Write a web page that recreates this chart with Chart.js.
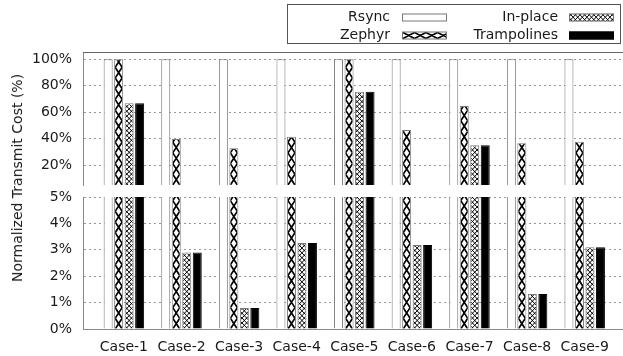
<!DOCTYPE html>
<html><head><meta charset="utf-8">
<script src="https://cdn.jsdelivr.net/npm/chart.js@4/dist/chart.umd.min.js"></script>
<style>
html,body{margin:0;padding:0;background:#fff;}
#wrap{position:relative;width:623px;height:356px;overflow:hidden;background:#fff;}
#top{position:absolute;left:0;top:0;}
#bot{position:absolute;left:0;top:176px;}
#ytitle{position:absolute;left:17px;top:178px;transform:translate(-50%,-50%) rotate(-90deg);font:14px "DejaVu Sans";color:#1a1a1a;white-space:nowrap;}
</style></head>
<body>
<div id="wrap">
<canvas id="top" width="623" height="206"></canvas>
<canvas id="bot" width="623" height="180"></canvas>
<div id="ytitle">Normalized Transmit Cost (%)</div>
</div>
<script>
// ---- data ----
const categories = ["Case-1","Case-2","Case-3","Case-4","Case-5","Case-6","Case-7","Case-8","Case-9"];
const rsync       = [100, 100, 100, 100, 100, 100, 100, 100, 100];
const zephyr      = [100, 39.8, 32.7, 41.5, 100, 46.6, 64.7, 36.5, 37.7];
const inPlace     = [66.7, 2.9, 0.8, 3.26, 75.5, 3.18, 35.0, 1.33, 3.1];
const trampolines = [66.7, 2.9, 0.8, 3.26, 75.5, 3.18, 35.0, 1.33, 3.1];
const seriesNames = ["Rsync","Zephyr","In-place","Trampolines"];
const topTicks    = [20, 40, 60, 80, 100];
const bottomTicks = [0, 1, 2, 3, 4, 5];

// ---- styling ----
const FONT = {family: "DejaVu Sans", size: 14};
const TXT = "#1a1a1a";
const X_MIN = -0.71, X_MAX = 8.665;

function toXY(arr){ return arr.map((v,i)=>({x:i, y:v})); }

function makeDatasets(){
  const vals = [rsync, zephyr, inPlace, trampolines];
  const fills = ["#ffffff","#ffffff","#ffffff","#000000"];
  const borders = ["#777777","#777777","#777777","#000000"];
  const hatches = [null, "zigzag", "cross", null];
  return vals.map((v,i)=>({
    label: seriesNames[i],
    data: toXY(v),
    backgroundColor: fills[i],
    borderColor: borders[i],
    borderWidth: 1,
    hatch: hatches[i],
    clip: 0,
    categoryPercentage: 0.729,
    barPercentage: 0.857
  }));
}

// ---- hatch helpers ----
function zigzagV(ctx, L, R, T, B, yb){
  const p = 10.7;
  const k0 = Math.floor((yb - B)/p) - 1, k1 = Math.ceil((yb - T)/p) + 1;
  ctx.beginPath();
  for (let k=k0;k<=k1;k++){
    const y1 = yb - k*p, y2 = yb - (k+1)*p;
    ctx.moveTo(L,y1); ctx.lineTo(R,y2);
    ctx.moveTo(R,y1); ctx.lineTo(L,y2);
  }
  ctx.stroke();
}
function zigzagH(ctx, L, R, T, B){
  const p = 11.5;
  ctx.beginPath();
  for (let x1 = L - p; x1 < R + p; x1 += p){
    const x2 = x1 + p;
    ctx.moveTo(x1,T); ctx.lineTo(x2,B);
    ctx.moveTo(x1,B); ctx.lineTo(x2,T);
  }
  ctx.stroke();
}
function crossHatch(ctx, L, R, T, B, yb){
  const s = 4.6, m = 1.05, W = R - L;
  const hT = yb - T, hB = yb - B;
  ctx.beginPath();
  const k0 = Math.floor((-hT/m)/s) - 1, k1 = Math.ceil((W - hB/m)/s) + 1;
  for (let k=k0;k<=k1;k++){
    const c = k*s;
    ctx.moveTo(L + c + hB/m, B); ctx.lineTo(L + c + hT/m, T);
    ctx.moveTo(R - c - hB/m, B); ctx.lineTo(R - c - hT/m, T);
  }
  ctx.stroke();
}

const hatchPlugin = {
  id: 'hatchPlugin',
  afterDatasetsDraw(chart){
    const ctx = chart.ctx, area = chart.chartArea;
    chart.data.datasets.forEach((ds, di)=>{
      if (!ds.hatch) return;
      const meta = chart.getDatasetMeta(di);
      meta.data.forEach(el=>{
        const {x, y, base, width} = el.getProps(['x','y','base','width'], true);
        const L = x - width/2 + 1, R = x + width/2 - 1;
        let T = Math.min(y, base) + 1, B = Math.max(y, base);
        T = Math.max(T, area.top); B = Math.min(B, area.bottom);
        if (B <= T) return;
        ctx.save();
        ctx.beginPath(); ctx.rect(L, T, R-L, B-T); ctx.clip();
        ctx.strokeStyle = '#000';
        if (ds.hatch === 'zigzag'){ ctx.lineWidth = 1.7; zigzagV(ctx, L, R, T, B, area.bottom); }
        else { ctx.lineWidth = 1; crossHatch(ctx, L, R, T, B, area.bottom); }
        ctx.restore();
      });
    });
  }
};

const frameLegendPlugin = {
  id: 'frameLegend',
  afterDraw(chart){
    const ctx = chart.ctx, a = chart.chartArea;
    ctx.save();
    // top frame of upper panel
    ctx.strokeStyle = '#666'; ctx.lineWidth = 1;
    ctx.beginPath(); ctx.moveTo(a.left, a.top + 0.5); ctx.lineTo(a.right, a.top + 0.5); ctx.stroke();
    // legend box
    ctx.strokeStyle = '#555';
    ctx.strokeRect(287.5, 4.5, 333, 39);
    const textX = [390, 558], boxX = [402, 569], rowY = [17.5, 35.5];
    const pos = [[0,0],[0,1],[1,0],[1,1]]; // Rsync, Zephyr, In-place, Trampolines
    ctx.font = '14px "DejaVu Sans"'; ctx.fillStyle = TXT;
    ctx.textAlign = 'right'; ctx.textBaseline = 'middle';
    chart.data.datasets.forEach((ds, i)=>{
      const [c, r] = pos[i];
      ctx.fillStyle = TXT;
      ctx.fillText(ds.label, textX[c], rowY[r]);
      const L = boxX[c], T = rowY[r] - 4, W = 45, H = 8;
      ctx.fillStyle = ds.backgroundColor;
      ctx.fillRect(L, T, W, H);
      if (ds.hatch){
        ctx.save(); ctx.beginPath(); ctx.rect(L, T, W, H); ctx.clip();
        ctx.strokeStyle = '#000';
        if (ds.hatch === 'zigzag'){ ctx.lineWidth = 1.5; zigzagH(ctx, L+1, L+W-1, T+1, T+H-1); }
        else { ctx.lineWidth = 1; crossHatch(ctx, L, L+W, T, T+H, T+H); }
        ctx.restore();
      }
      ctx.strokeStyle = ds.borderColor; ctx.lineWidth = 1;
      ctx.strokeRect(L + 0.5, T + 0.5, W - 1, H - 1);
    });
    ctx.restore();
  }
};

function yScale(min, max, ticks){
  return {
    min, max,
    afterBuildTicks: s => { s.ticks = ticks.map(v=>({value:v})); },
    afterFit: s => { s.width = 83; },
    grid: {color: '#999', drawTicks: false, lineWidth: 1},
    border: {display: true, color: '#888', width: 1, dash: [2,3]},
    ticks: {padding: 11, font: FONT, color: TXT, callback: v => v + '%'}
  };
}
const xTickBuild = s => { s.ticks = categories.map((c,i)=>({value:i})); };

const common = {
  responsive: false, animation: false, events: [],
  plugins: {legend: {display: false}, tooltip: {enabled: false}},
};

new Chart(document.getElementById('top'), {
  type: 'bar',
  data: {datasets: makeDatasets()},
  options: Object.assign({}, common, {
    layout: {padding: {top: 52, bottom: 21, left: 0, right: 0}},
    scales: {
      x: {type: 'linear', min: X_MIN, max: X_MAX, offset: false, display: false, afterBuildTicks: xTickBuild},
      y: yScale(5, 105.5, topTicks)
    }
  }),
  plugins: [hatchPlugin, frameLegendPlugin]
});

new Chart(document.getElementById('bot'), {
  type: 'bar',
  data: {datasets: makeDatasets()},
  options: Object.assign({}, common, {
    layout: {padding: {top: 21, bottom: 0, left: 0, right: 0}},
    scales: {
      x: {type: 'linear', min: X_MIN, max: X_MAX, offset: false, afterBuildTicks: xTickBuild,
          afterFit: s => { s.height = 27; },
          grid: {display: false, drawTicks: false},
          border: {display: true, color: '#888', width: 1},
          ticks: {padding: 10, font: FONT, color: TXT, autoSkip: false, maxRotation: 0,
                  callback: v => categories[v] !== undefined ? categories[v] : ''}},
      y: yScale(0, 5, bottomTicks)
    }
  }),
  plugins: [hatchPlugin]
});
</script>
</body></html>
